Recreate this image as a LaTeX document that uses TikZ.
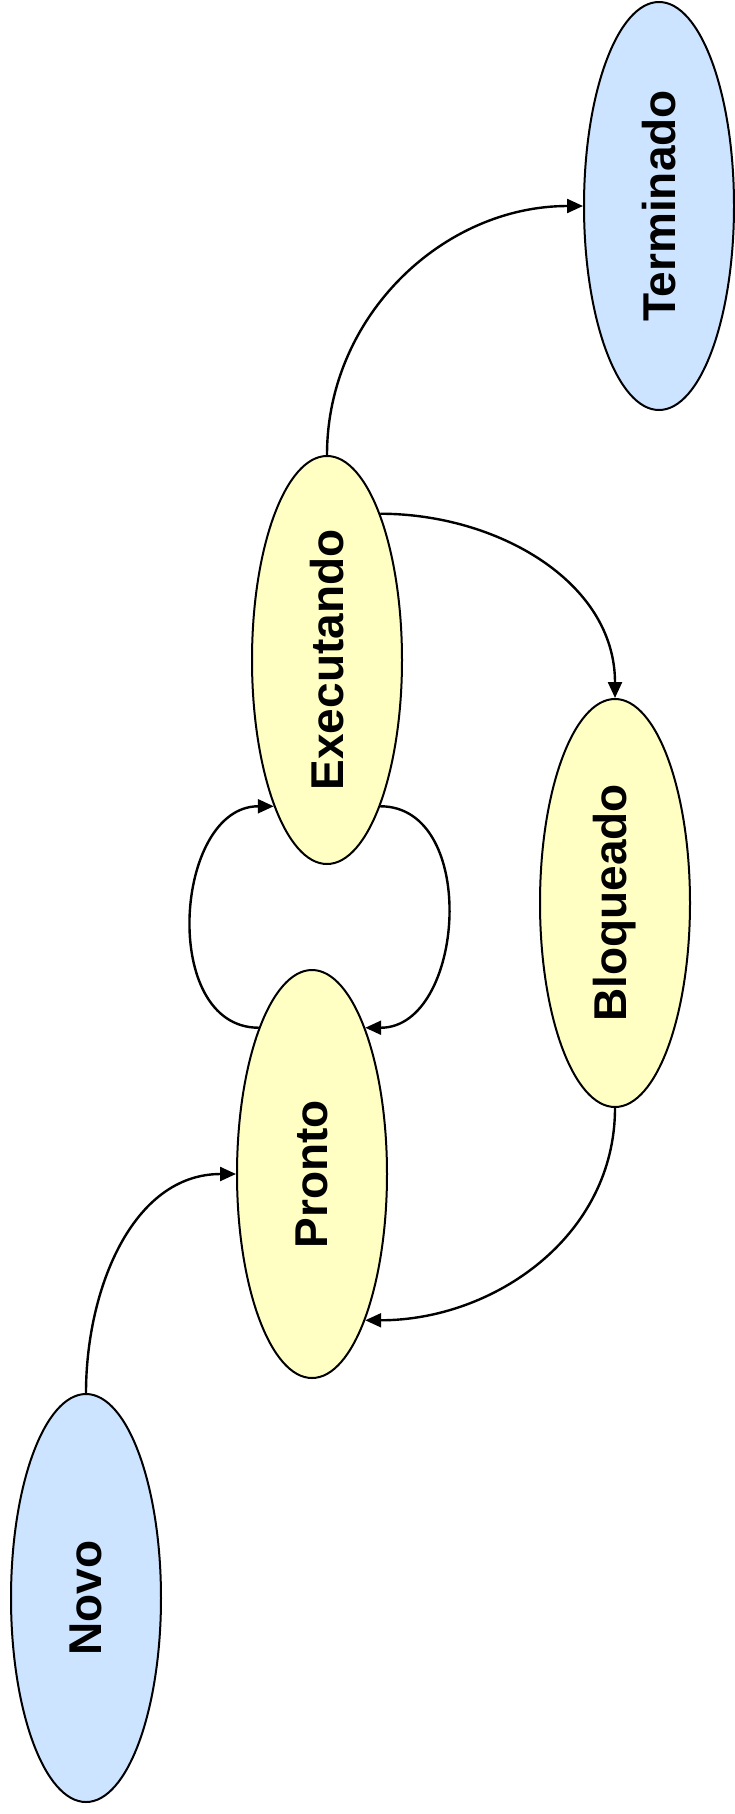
\documentclass[tikz,border=0pt]{standalone}
\usepackage{fontspec}
\setmainfont{Liberation Sans}
\usepackage{tikz}
\usetikzlibrary{positioning,arrows.meta,shapes.geometric}
\definecolor{stYellow}{HTML}{FFFFC4}
\definecolor{stBlue}{HTML}{CCE4FF}
\tikzset{
  statenode/.style={draw, ellipse, line width=1pt, inner sep=0pt,
                    minimum width=75pt, minimum height=204pt,
                    font=\fontsize{23}{28}\selectfont\bfseries},
  midstate/.style={statenode, fill=stYellow},
  endstate/.style={statenode, fill=stBlue},
  stdarrow/.style={-{Triangle[length=8pt, width=7pt]}, line width=1.2pt},
}
\newcommand{\vtext}[1]{\rotatebox{90}{#1}}

\begin{document}
\begin{tikzpicture}[x=0.5pt, y=0.5pt]
\useasboundingbox (0,0) rectangle (734,-1814);

%% States
\node[endstate] (term) at (659,-206) {\vtext{Terminado}};
\node[midstate] (exec) at (327,-660) {\vtext{Executando}};
\node[midstate] (bloq) at (615,-903) {\vtext{Bloqueado}};
\node[midstate] (pronto) at (312,-1174) {\vtext{Pronto}};
\node[endstate] (novo) at (86,-1598) {\vtext{Novo}};

%% Transitions
\draw[stdarrow] (novo.north) to[out=90, in=180] (pronto.west);
\draw[stdarrow] (pronto.110) to[out=180, in=180, looseness=1.15] (exec.-110);
\draw[stdarrow] (exec.-70) to[out=0, in=0, looseness=1.15] (pronto.70);
\draw[stdarrow] (exec.70) to[out=0, in=90] (bloq.north);
\draw[stdarrow] (bloq.south) to[out=-90, in=0] (pronto.-70);
\draw[stdarrow] (exec.north) to[out=90, in=180] (term.west);
\end{tikzpicture}
\end{document}
